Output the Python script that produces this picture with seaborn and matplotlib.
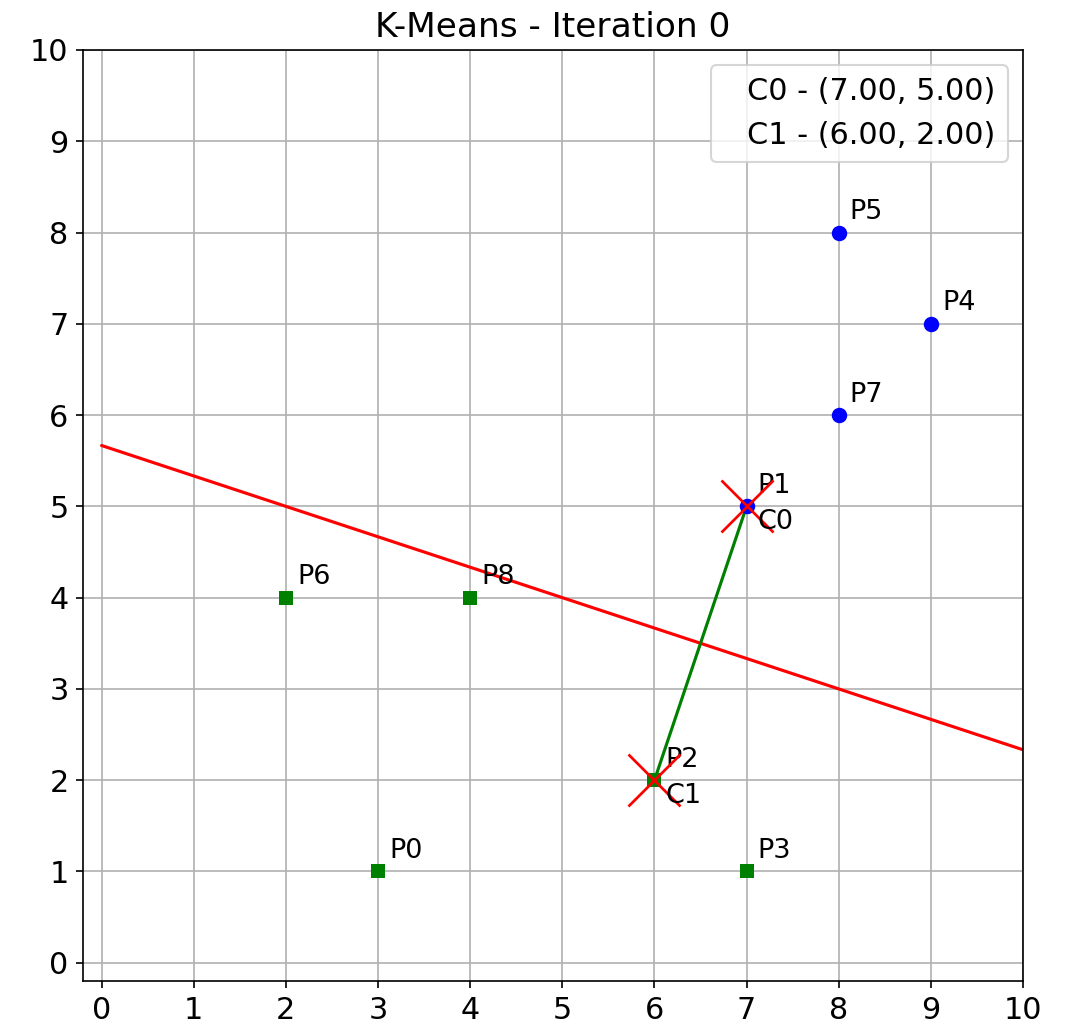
import numpy as np
import pandas as pd
import matplotlib
matplotlib.use("Agg")
import matplotlib.pyplot as plt
import seaborn as sns

# points and cluster assignment
px = [3, 7, 6, 7, 9, 8, 2, 8, 4]
py = [1, 5, 2, 1, 7, 8, 4, 6, 4]
labels = ["P0", "P1", "P2", "P3", "P4", "P5", "P6", "P7", "P8"]
cluster = [1, 0, 1, 1, 0, 0, 1, 0, 1]

# centroids
cx = [7.0, 6.0]
cy = [5.0, 2.0]
cnames = ["C0", "C1"]

sns.set_style("ticks", {"axes.edgecolor": "black", "text.color": "black",
                        "xtick.color": "black", "ytick.color": "black"})
plt.rcParams['font.family'] = ['DejaVu Sans']

df = pd.DataFrame({"x": px, "y": py, "label": labels, "cluster": cluster})

fig, ax = plt.subplots(figsize=(1066 / 150, 1028 / 150), dpi=150)
fig.subplots_adjust(left=0.078, right=0.9597, top=0.9514, bottom=0.0457)

# perpendicular bisector between the two centroids
mx, my = (cx[0] + cx[1]) / 2, (cy[0] + cy[1]) / 2
dx, dy = cx[0] - cx[1], cy[0] - cy[1]
xs = np.array([0, 10])
ys = my - dx / dy * (xs - mx)
ax.plot(xs, ys, color="red", lw=1.5)

# line joining centroids
ax.plot(cx, cy, color="green", lw=1.5)

sns.scatterplot(data=df[df.cluster == 0], x="x", y="y", color="blue", marker="o",
                s=55, linewidth=0, ax=ax, zorder=3)
sns.scatterplot(data=df[df.cluster == 1], x="x", y="y", color="green", marker="s",
                s=45, linewidth=0, ax=ax, zorder=3)

for x, y, t in zip(px, py, labels):
    ax.text(x + 0.12, y + 0.08, t, fontsize=13, va="bottom", ha="left",
            color="black", zorder=4)

for x, y, t in zip(cx, cy, cnames):
    ax.plot(x, y, marker="x", color="red", markersize=25, mew=1.3, ls="none", zorder=4)
    ax.text(x + 0.12, y - 0.03, t, fontsize=13, va="top", ha="left",
            color="black", zorder=4)

# invisible handles, legend text only
for x, y, t in zip(cx, cy, cnames):
    ax.plot([], [], " ", label=f"{t} - ({x:.2f}, {y:.2f})")
ax.legend(loc="upper right", fontsize=14.5, handlelength=0, handletextpad=0.8)

ax.set_xlim(-0.2, 10)
ax.set_ylim(-0.2, 10)
ax.set_xticks(range(11))
ax.set_yticks(range(11))
ax.tick_params(labelsize=14.5, labelcolor="black")
ax.set_xlabel("")
ax.set_ylabel("")
ax.grid(True, color="#b0b0b0", lw=0.8)
ax.set_axisbelow(True)
ax.set_title("K-Means - Iteration 0", fontsize=16.5, color="black")

plt.savefig("out.png")
